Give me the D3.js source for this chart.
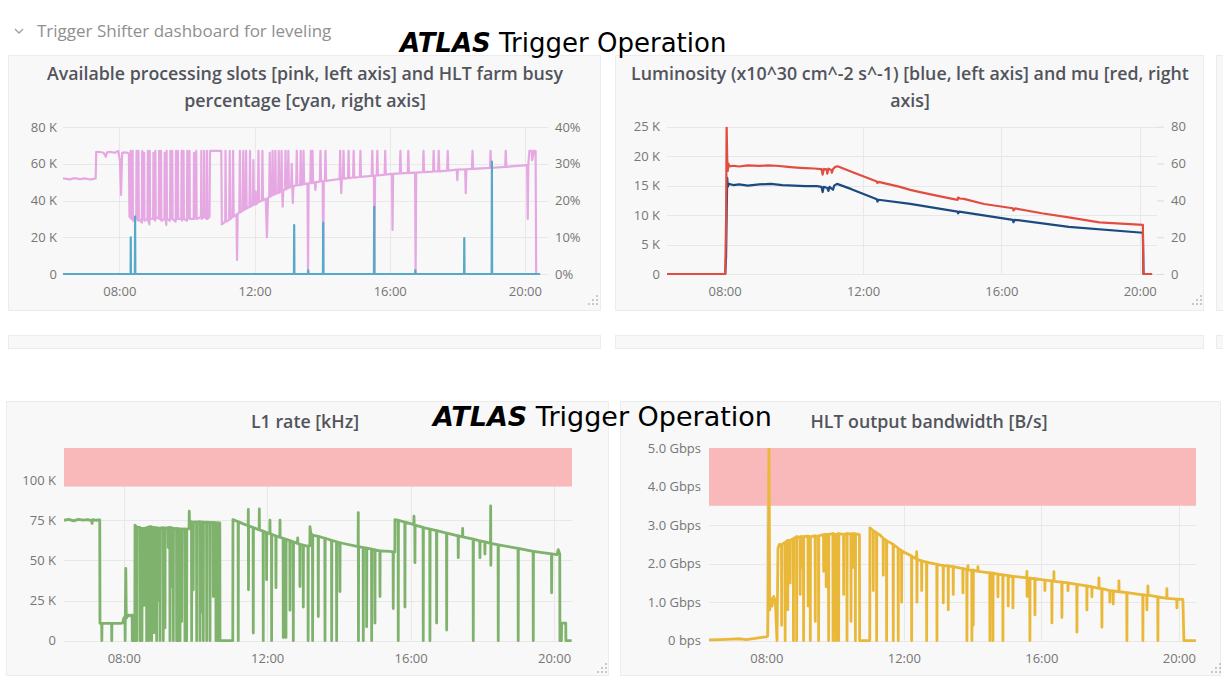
<!DOCTYPE html>
<html>
<head>
<meta charset="utf-8">
<script src="https://cdn.jsdelivr.net/npm/d3@7"></script>
<style>
  body { margin: 0; background: #fff; }
  svg { display: block; font-family: "Open Sans", sans-serif; }
</style>
</head>
<body>
<svg id="chart" width="1223" height="691"></svg>
<script>
// Grafana shifter dashboard, four panels.
// Times are minutes after midnight, values in panel units.

// --- Data ---
const hourTicksEvery = 4;

// available processing slots [K], left axis
const slotsData = [
  [380,52],[392,51.5],[400,52.2],[410,51.6],[420,52],[428,51.4],[438,52],[439,66.5],[446,66.4],[452,66],
  [456,63.8],[458,66.2],[464,66.5],[472,66],[478,67],[481,62],[483,43],[485,66],[490,66.2],[494,66],[497,65.5],
  [498,31],[499,31],[500,67],[501,30],[503,31],[503.6,67],[504.2,29],[510,32],[510.6,67],[511.2,30],[513.4,29],
  [514,67],[514.6,30],[520,28],[520.6,67],[521.2,31],[523.4,30],[524,66],[524.6,29],[530,30],[530.6,67],
  [531.2,29],[533.4,27],[534,67],[534.6,30],[540,30],[540.6,66],[541.2,31],[543.4,29],[544,67],[544.6,30],
  [550,31],[550.6,67],[551.2,30],[553.4,30],[554,67],[554.6,29],[560,30],[560.6,66],[561.2,31],[563.4,26.7],
  [564,67],[564.6,30],[570,29],[570.6,67],[571.2,30],[573.4,31],[574,67],[574.6,30],[580,28.5],[580.6,67],
  [581.2,31],[583.4,30],[584,67],[584.6,30],[590,30],[590.6,67],[591.2,29],[593.4,31],[594,67],[594.6,30],
  [600,29],[600.6,67],[601.2,30],[604,31],[604.6,67],[605.2,30],[612,30],[612.6,66],[613.2,30],[616,31],
  [616.6,67],[617.2,30],[625,31],[625.6,67],[626.2,30],[630,31],[630.6,67],[631.2,31],[635,30],[635.6,67],
  [636.2,30],[640,31],[641,67],
  [655,67],[661,67],[662,27],[668,28.5],[668.5,67],[669.5,28.5],[675,29.5],[676,67],[677,29.8],
  [681,31],[682,67],[683,31.2],[688,32.4],[689,7.6],[690,32.6],[693,33.5],[694,67],[695,33.6],[699,34.5],
  [700,67],[701,34.7],[704,35.5],[705,67],[706,35.6],[711,36.6],[712,67],[713,36.7],[717,37.5],[718,62],
  [719,37.6],[721,38],[722,45],[723,38],[726,39],[727,67],[728,39.1],[733,40],[734,67],[735,40.1],[740,41],
  [742,20],[744,41.5],[746,42],[747,66],[748,42.1],[751,42.8],[752,67],[753,42.9],[756,43.5],[757,67],[758,43.6],
  [762,44.2],[763,67],[764,44.3],[767,45],[768,67],[769,45.2],[770,36.6],[771,45.6],[774,46],[775,67],[776,46.1],
  [779,46.8],[780,67],[781,46.9],[785,47.4],[786,60],[787,47.5],[788,38.6],[789,47.8],[794,48.2],[795,67],
  [796,48.3],[801,48.4],[802,67],[803,48.5],[806,48.8],[807,67],[808,48.9],[814,49.3],[815,0.5],[816,49.3],
  [819,49.4],[820,67],[821,49.5],[822,49.6],[823,67],[824,49.7],[827,49.9],[828,45.7],[829,50],[836,50.3],
  [837,67],[838,50.4],[841,50.5],[842,0.5],[843,50.5],[845,50.7],[846,67],[847,50.7],[871,51.7],[872,67],
  [873,51.7],[874,44],[875,51.8],[877,51.9],[878,67],[879,51.9],[886,52.2],[887,67],[888,52.2],[895,52.5],
  [896,67],[897,52.5],[907,52.8],[908,67],[909,52.9],[928,53.4],[929,67],[930,53.4],[932,53.5],[933,0.5],
  [934,53.5],[937,53.6],[938,67],[939,53.6],[951,54.1],[952,67],[953,54.1],[964,54.5],[965,24],[966,54.5],
  [978,54.8],[979,67],[980,54.8],[992,55],[993,67],[994,55],[1005,55.2],[1006,0.5],[1007,55.2],[1019,55.4],
  [1020,67],[1021,55.4],[1037,55.7],[1038,67],[1039,55.8],[1046,55.9],[1047,67],[1048,55.9],[1062,56.3],
  [1063,67],[1064,56.3],[1079,56.8],[1080,51],[1081,56.8],[1094,57],[1095,44],[1096,57],[1106,57.2],[1107,67],
  [1108,57.2],[1138,57.8],[1139,67],[1140,57.8],[1165,58.3],[1166,67],[1167,58.3],[1204,59.3],[1205,30],
  [1206,59.4],[1208,67],[1212,67],[1213,62],[1216,67],[1219,67],[1220,0],[1222,0]
];

// HLT farm busy [%], right axis
const busyData = [
  [380,0],[500,0],[500.3,10],[500.6,0],[507.6,0],[508,15.6],[508.4,0],[790,0],[790.4,13.3],[790.8,0],
  [815,0],[815.4,1],[815.8,0],[841.5,0],[841.9,13.9],[842.3,0],[932,0],[932.4,18.3],[932.8,0],
  [1005,0],[1005.4,1],[1005.8,0],[1092,0],[1092.4,9.8],[1092.8,0],[1141,0],[1141.4,30.6],[1141.8,0],[1227,0]
];

// luminosity [K x10^30], left axis
const lumiData = [
  [380,0],[481,0],[482.5,3],[483.5,10.4],[484.5,16.3],[485.5,14.8],[487,15.3],[495,15.1],[505,15.2],[520,15],
  [540,15.2],[560,15.3],[580,15.1],[600,15],[620,14.9],[640,14.9],[648,14.8],[650,13.9],[652,14.8],[658,14.6],
  [660,14.1],[662,14.8],[668,14.3],[670,15],[675,15.3],[700,14.4],[744,12.7],[745,12.3],[747,12.6],[802,11.9],
  [884,10.6],[885,10.3],[887,10.6],[980,9.2],[981,8.8],[983,9.2],[1077,8.0],[1205.5,7.0],[1206.5,0],[1221.5,0]
];

// pile-up mu, right axis
const muData = [
  [380,0],[481,0],[482.5,30],[483.5,79.5],[484.5,62],[485.5,56],[486.5,60],[488,58.5],[495,58.8],[505,58.4],
  [520,59],[540,58.7],[555,59],[570,58.8],[590,58.2],[605,57.8],[620,57.5],[635,57.3],[648,57],[650,54],
  [652,57],[657,56.8],[658,54.5],[660,57.2],[665,56.5],[666,55],[668,57],[672,58.2],[676,58.5],[700,55.5],
  [744,50.2],[745,49.4],[747,50],[784,47.3],[802,45.7],[819,44.5],[854,42.2],[884,40.3],[885,41.5],[888,41],
  [895,40.8],[930,38],[980,35.7],[981,34.5],[984,35.6],[1030,33],[1077,30.8],[1130,28],[1205.5,26.7],
  [1206.5,0],[1221.5,0]
];

// L1 rate [K]
const l1Data = [
  [380,75],[388,75.5],[396,74.6],[404,75.6],[412,75.1],[420,75.4],[426,74.8],[427,73],[428,75.4],[434,75],
  [439.8,75.2],[440.2,10.8],[443,10.8],[443.3,0],[443.6,10.8],[459.6,10.8],[459.9,0],[460.2,10.8],[472,10.8],
  [478,11],[480,14],[482,15],[482.3,0],[482.6,15],[483.4,45],[484.2,14],[488,16],[492,15.5],[494,16],[494.3,0],
  [498.5,0],[498.8,72],[501.3,71],[501.6,0],[501.9,70.5],[506.8,70.5],[507.1,0],[507.4,70],[510.2,70],
  [510.5,0],[510.8,70],[513.5,69.8],[513.8,22],[514.1,70],[518,70.2],[518.3,0],[518.6,70.5],[521.7,70.8],
  [522,0],[522.3,70.8],[526.4,71],[526.7,0],[527,70.6],[530.3,70.4],[530.6,5],[530.9,70.5],[534.7,70.3],
  [535,0],[535.3,70.2],[537.7,70.1],[538,25],[538.3,70.1],[540.3,70],[540.6,0],[540.9,70.1],[545.8,70.4],
  [546.1,0],[546.4,70.3],[548.7,70.2],[549,8],[549.3,70],[554.2,70.4],[554.5,58],[554.8,70.4],[557,70.6],
  [557.3,0],[557.6,70.5],[559.9,70.3],[560.2,33.7],[560.5,70.2],[562.6,70],[562.9,0],[563.2,70],[568.2,69.8],
  [568.5,0],[568.8,69.9],[571.2,69.7],[571.5,0],[571.8,69.7],[573.8,69.6],[574.1,0],[574.4,69.7],[576.6,69.6],
  [576.9,12],[577.2,69.5],[582.1,69.6],[582.4,0],[582.7,69.5],[584.9,69.4],[585.2,0],[585.5,69.5],[589.2,69.6],
  [589.6,80.6],[590,74],[593.3,74.2],[593.6,0],[593.9,74],[596,73.9],[596.3,31.7],[596.6,73.8],[601.7,74],
  [602,0],[602.3,73.9],[607.2,74.1],[607.5,0],[607.8,74],[610.2,73.9],[610.5,18],[610.8,73.9],[612.8,73.8],
  [613.1,0],[613.4,73.9],[618.5,73.7],[618.8,0],[619.1,73.8],[624,73.6],[624.3,0],[624.6,73.7],[629.5,73.5],
  [629.8,27.5],[630.1,73.6],[634,73.5],[634.3,0],[634.6,73.4],[637.9,73.5],[638.2,0],[638.5,73.4],[640.7,73.4],
  [641,0],[662.4,0],[662.7,75.4],[671.3,74.1],[671.6,0],[671.9,74.1],[679,72.9],[688.1,71.6],[688.4,81.7],
  [688.7,31.7],[689,71.6],[696.4,70.4],[696.7,4.8],[697,70.4],[706.5,69],[706.8,82],[707.1,69],[713.1,68.2],
  [713.4,0],[713.7,68.2],[718.7,67.3],[719,38],[719.3,67.3],[724.3,66.6],[724.6,75],[724.9,66.6],[727.1,66.3],
  [727.4,0],[727.7,66.3],[734.4,65.2],[734.7,33],[735,65.2],[741.1,64.4],[741.4,75],[741.7,64.4],[746.6,63.7],
  [746.9,2],[747.2,63.7],[751.1,63.2],[751.4,2],[751.7,63.2],[757.8,62.3],[758.1,19],[758.4,62.3],[763.4,61.5],
  [763.7,0],[764,61.5],[770.7,60.6],[771,64],[771.3,60.6],[774.5,60],[774.8,33.7],[775.1,60],[780.1,59.5],
  [780.4,21],[780.7,59.5],[788.2,58.8],[788.5,0],[788.8,59],[791.3,59],[791.6,71],[793,67],[794.9,66],
  [795.7,65.9],[796,0],[796.3,65.8],[805.2,65],[805.5,15],[805.8,65],[816.4,63.8],[816.7,0],[817,63.8],
  [827.6,62.5],[827.9,0],[828.2,62.5],[835.9,61.6],[836.2,0],[836.5,61.6],[841.4,61],[841.7,30.6],[842,61],
  [872.1,58.6],[872.4,79.8],[872.7,0],[873,58.6],[880.5,58],[880.8,0],[881.1,58],[886.1,57.7],[886.4,8.7],
  [886.7,57.7],[894.5,57],[894.8,0],[895.1,57],[900,56.6],[900.3,11],[900.6,56.6],[908.4,56],[908.7,27.5],
  [909,56],[925,55.6],[930.6,55.3],[930.9,20],[931.2,55.3],[933.5,55.2],[933.8,75.4],[939,75],[939.3,0],
  [939.6,75],[950.2,73.8],[950.5,21],[950.8,73.8],[965.3,72.3],[965.6,77.5],[966,72.2],[966.9,72.1],
  [967.2,48.6],[967.5,72],[980.8,70.6],[981.1,0],[981.4,70.5],[992,69.5],[992.3,0],[992.6,69.5],[1003.2,68.6],
  [1003.5,11],[1003.8,68.6],[1020,67],[1020.3,6.6],[1020.6,67],[1039.4,65.3],[1039.7,51.7],[1040,65.3],
  [1046.7,64.7],[1047,70],[1047.3,64.7],[1064.5,63.2],[1064.8,0],[1065.1,63.2],[1075.7,62.2],[1076,51.7],
  [1076.3,62.2],[1084,61.5],[1084.3,54],[1084.6,61.5],[1093.6,60.6],[1093.9,84],[1094.2,47],[1094.5,60.6],
  [1106.3,59.7],[1106.6,0],[1106.9,59.7],[1139.7,57.5],[1140,0],[1140.3,57.5],[1164.9,55.6],[1165.2,0],
  [1165.5,55.6],[1195.6,54],[1195.9,29.8],[1196.2,54],[1204.8,53.6],[1207,56.7],[1209.5,54],[1209.8,0],
  [1212.3,0],[1212.6,11],[1219.5,11],[1219.8,0],[1229.4,0]
];

// HLT output bandwidth [Gbps]
const hltData = [
  [380,0.02],[400,0.03],[420,0.04],[434,0.05],[445,0.03],[455,0.05],[469,0.08],[479,0.1],[482.5,0.12],[483,0.8],
  [484.7,5.3],[486,0.8],[488,1.1],[490,0.9],[493,1.15],[496,1.0],[497,0.6],[498.7,0],[500.4,2.4],[503,2.5],
  [505,2.45],[506.5,2.5],[506.8,0.4],[507.1,2.5],[512.6,2.55],[512.9,0],[513.2,2.55],[517.2,2.6],[517.5,0.8],
  [517.8,2.6],[521.3,2.6],[521.6,1.5],[521.9,2.6],[527.1,2.65],[527.4,0],[527.7,2.65],[532.7,2.7],[533,0],
  [533.3,2.7],[538.9,2.68],[539.2,1.2],[539.5,2.7],[541.7,2.7],[542,1.9],[542.3,2.7],[544.8,2.7],[545.1,0],
  [545.4,2.7],[552.7,2.71],[553,0.9],[553.3,2.71],[556.5,2.7],[556.8,0],[557.1,2.7],[565.2,2.72],[565.5,0.5],
  [565.8,2.72],[571,2.7],[571.3,0],[571.6,2.72],[579.8,2.75],[580.1,1.8],[580.4,2.75],[584.2,2.76],[584.5,1.4],
  [584.8,2.76],[588.5,2.76],[588.8,0],[589.1,2.76],[596.2,2.78],[596.5,0],[596.8,2.78],[601.2,2.75],[601.5,0],
  [601.8,2.75],[606,2.78],[606.3,0],[606.6,2.78],[614.8,2.76],[615.1,1.2],[615.4,2.76],[620.6,2.78],[620.9,0],
  [621.2,2.78],[627.6,2.77],[627.9,0.5],[628.2,2.77],[631.2,2.78],[631.5,1.9],[631.8,2.78],[635.2,2.78],
  [635.5,0],[635.8,2.77],[642.6,2.75],[642.9,0],[660.6,0],[660.9,2.93],[666.4,2.86],
  [666.7,1.3],[667,2.85],[672.3,2.8],[672.6,0],[672.9,2.79],[678,2.75],[683.9,2.66],[684.2,1.7],[684.5,2.65],
  [689.7,2.6],[690,0],[690.3,2.59],[701.3,2.5],[701.6,0],[701.9,2.49],[710,2.4],[710.3,0],[710.6,2.39],
  [715.9,2.34],[716.2,1.0],[716.5,2.33],[731,2.22],[733.4,2.2],[733.7,0],[734,2.19],[742.1,2.12],[742.4,2.31],
  [742.7,2.11],[743,1.0],[743.3,2.11],[751,2.07],[751.2,1.3],[751.5,2.07],[759.6,2.04],[759.9,0],[760.2,2.04],
  [765.6,2.02],[777.6,1.98],[777.9,0],[778.2,1.98],[788.6,1.95],[788.9,0.98],[789.2,1.95],[797.3,1.94],
  [797.6,0.8],[797.9,1.94],[806,1.92],[806.3,1.2],[806.6,1.92],[822.9,1.87],[823.2,1.24],[823.5,1.87],
  [829.9,1.85],[830.2,0],[830.5,1.85],[831.7,1.84],[832,1.95],[832.3,1.84],[838.6,1.83],[838.9,0],[839.2,1.83],
  [840.9,1.83],[841.2,0.4],[841.5,1.83],[849.1,1.8],[849.4,1.92],[849.7,1.8],[870,1.76],[870.3,0],[870.6,1.76],
  [875.3,1.75],[875.6,0],[875.9,1.75],[884,1.73],[884.3,1.14],[884.6,1.73],[892.7,1.71],[893,0],[893.3,1.71],
  [902,1.69],[902.3,0.9],[902.6,1.69],[910.2,1.67],[910.5,0.85],[910.8,1.67],[934.6,1.63],[934.9,1.8],
  [935.2,1.15],[935.5,1.62],[939.8,1.62],[940.1,0],[940.4,1.62],[948.6,1.61],[948.9,0.67],[949.2,1.61],
  [966,1.57],[966.3,1.3],[966.6,1.57],[978.2,1.55],[978.5,0.46],[978.8,1.55],[981.7,1.55],[982,1.79],
  [982.3,1.54],[995.7,1.52],[996,0.6],[996.3,1.52],[1006.2,1.5],[1006.5,1.3],[1006.8,1.5],[1021.9,1.46],
  [1022.2,0.22],[1022.5,1.46],[1039.3,1.42],[1039.6,0.8],[1039.9,1.42],[1048,1.4],[1048.3,1.14],[1048.6,1.4],
  [1060.3,1.36],[1060.6,1.63],[1060.9,1.36],[1065.5,1.35],[1065.8,0.35],[1066.1,1.35],[1079.4,1.3],[1079.7,1.0],
  [1080,1.3],[1085.2,1.29],[1085.5,0.95],[1085.8,1.29],[1095.2,1.27],[1095.5,1.55],[1095.8,1.27],[1109.1,1.25],
  [1109.4,0],[1109.7,1.25],[1137,1.19],[1137.3,0],[1137.6,1.19],[1144,1.18],[1144.3,0.8],[1144.6,1.18],
  [1145.8,1.18],[1146.1,1.42],[1146.4,1.18],[1163.2,1.14],[1163.5,0],[1163.8,1.14],[1178.9,1.1],[1179.2,1.35],
  [1179.5,1.1],[1196.4,1.08],[1196.7,0.85],[1197,1.08],[1207.1,1.07],[1208.9,0],[1229.8,0]
];

// axis ticks and thresholds
const slotsTicks = [0, 20, 40, 60, 80];
const busyTicks = [0, 10, 20, 30, 40];
const lumiTicks = [0, 5, 10, 15, 20, 25];
const muTicks = [0, 20, 40, 60, 80];
const l1Ticks = [0, 25, 50, 75, 100];
const hltTicks = [0, 1, 2, 3, 4, 5];
const l1Threshold = 96;   // K, red band up to top
const hltThreshold = 3.5; // Gbps

// --- Setup ---
const svg = d3.select("#chart");
const day = new Date(2018, 4, 14).getTime();
const toDate = m => new Date(day + m * 60000);
const gridColor = "#e8e8e8";
const labelColor = "#767676";
const kFmt = d => d === 0 ? "0" : d + " K";

// panel backgrounds (the two cut-off rows included)
const boxes = [
  [8, 55, 592, 255], [615, 55, 588, 255], [1216, 55, 20, 255],
  [8, 335, 592, 13], [615, 335, 588, 13], [1216, 335, 20, 13],
  [6, 401, 602, 274], [620, 401, 600, 274]
];
svg.selectAll(".box").data(boxes).join("rect")
  .attr("class", "box")
  .attr("x", d => d[0] + 0.5).attr("y", d => d[1] + 0.5)
  .attr("width", d => d[2]).attr("height", d => d[3])
  .attr("fill", "#f8f8f8").attr("stroke", "#ececec");

// dashboard row header
svg.append("path").attr("d", "M15,29 L19,33 L23,29")
  .attr("fill", "none").attr("stroke", "#a0a0a0").attr("stroke-width", 1.4);
svg.append("text").attr("x", 37).attr("y", 37)
  .attr("font-size", 17).attr("fill", "#8f8f8f")
  .text("Trigger Shifter dashboard for leveling");

// --- Panels ---
function drawPanel(p) {
  const g = svg.append("g");
  const x = d3.scaleTime().domain([toDate(p.t0), toDate(p.t1)]).range([p.left, p.right]);
  const y = d3.scaleLinear().domain(p.yDomain).range([p.bottom, p.top]);
  const y2 = p.y2Domain ? d3.scaleLinear().domain(p.y2Domain).range([p.bottom, p.top]) : null;

  // title
  p.title.forEach((line, i) => {
    g.append("text").attr("x", p.titleX).attr("y", p.titleY + i * 27)
      .attr("text-anchor", "middle").attr("font-size", 17.8).attr("font-weight", 600)
      .attr("fill", "#52545c").text(line);
  });

  // grid
  g.append("g").selectAll("line").data(p.yTicks).join("line")
    .attr("x1", p.left).attr("x2", p.gridRight)
    .attr("y1", d => Math.round(y(d)) + 0.5).attr("y2", d => Math.round(y(d)) + 0.5)
    .attr("stroke", gridColor);
  g.append("g").selectAll("line").data(x.ticks(d3.timeHour.every(hourTicksEvery))).join("line")
    .attr("x1", d => Math.round(x(d)) + 0.5).attr("x2", d => Math.round(x(d)) + 0.5)
    .attr("y1", p.top).attr("y2", p.bottom)
    .attr("stroke", gridColor);

  // threshold band
  if (p.threshold !== undefined) {
    g.append("rect")
      .attr("x", p.left).attr("width", p.right - p.left)
      .attr("y", p.top).attr("height", y(p.threshold) - p.top)
      .attr("fill", "#f9b9ba");
  }

  // axes
  const fontAttrs = sel => sel.attr("font-family", "Open Sans").attr("font-size", 13)
    .call(a => a.select(".domain").remove())
    .call(a => a.selectAll("text").attr("fill", labelColor));

  g.append("g").attr("transform", `translate(0,${p.bottom})`)
    .call(d3.axisBottom(x).ticks(d3.timeHour.every(hourTicksEvery))
      .tickFormat(d3.timeFormat("%H:%M")).tickSize(0).tickPadding(13))
    .call(fontAttrs);
  g.append("g").attr("transform", `translate(${p.left},0)`)
    .call(d3.axisLeft(y).tickValues(p.yTicks).tickFormat(p.yFormat).tickSize(0).tickPadding(p.padLeft))
    .call(fontAttrs);
  if (y2) {
    g.append("g").attr("transform", `translate(${p.right2},0)`)
      .call(d3.axisRight(y2).tickValues(p.y2Ticks).tickFormat(p.y2Format)
        .tickSize(p.y2TickSize).tickPadding(p.padRight))
      .call(fontAttrs)
      .call(a => a.selectAll("line").attr("stroke", "#dcdcdc"));
  }

  // series
  const clipId = "clip-" + p.id;
  g.append("clipPath").attr("id", clipId).append("rect")
    .attr("x", p.left).attr("y", p.top)
    .attr("width", p.right - p.left).attr("height", p.bottom - p.top + 2);

  const plot = g.append("g").attr("clip-path", `url(#${clipId})`);
  p.series.forEach(s => {
    const scale = s.axis === 2 ? y2 : y;
    const line = d3.line().x(d => x(toDate(d[0]))).y(d => scale(d[1]));
    plot.append("path").datum(s.data)
      .attr("d", line)
      .attr("fill", "none")
      .attr("stroke", s.color)
      .attr("stroke-width", s.width)
      .attr("stroke-linejoin", "round");
  });

  // resize handle
  const dots = [[0, -8], [-4, -4], [0, -4], [-8, 0], [-4, 0], [0, 0]];
  g.append("g").selectAll("rect").data(dots).join("rect")
    .attr("x", d => p.handle[0] + d[0]).attr("y", d => p.handle[1] + d[1])
    .attr("width", 2).attr("height", 2).attr("fill", "#c8c8c8");
}

drawPanel({
  id: "slots", t0: 380, t1: 1241, left: 63, right: 548, gridRight: 548, top: 127, bottom: 274,
  titleX: 305, titleY: 80,
  title: ["Available processing slots [pink, left axis] and HLT farm busy", "percentage [cyan, right axis]"],
  yDomain: [0, 80], yTicks: slotsTicks, yFormat: kFmt, padLeft: 6,
  y2Domain: [0, 40], y2Ticks: busyTicks, y2Format: d => d + "%", y2TickSize: 0, right2: 548, padRight: 7,
  series: [
    { data: slotsData, color: "#e5a8e2", width: 2.2 },
    { data: busyData, color: "#58a9c7", width: 2.2, axis: 2 }
  ],
  handle: [596, 303]
});

drawPanel({
  id: "lumi", t0: 380, t1: 1230, left: 667, right: 1157, gridRight: 1157, top: 126.7, bottom: 274,
  titleX: 910, titleY: 80,
  title: ["Luminosity (x10^30 cm^-2 s^-1) [blue, left axis] and mu [red, right", "axis]"],
  yDomain: [0, 25], yTicks: lumiTicks, yFormat: kFmt, padLeft: 7,
  y2Domain: [0, 80], y2Ticks: muTicks, y2Format: d => d, y2TickSize: 7, right2: 1157, padRight: 7,
  series: [
    { data: lumiData, color: "#1b4a80", width: 2.2 },
    { data: muData, color: "#e24d42", width: 2.2, axis: 2 }
  ],
  handle: [1200, 303]
});

drawPanel({
  id: "l1", t0: 380, t1: 1230, left: 64, right: 572, gridRight: 572, top: 448, bottom: 640.7,
  titleX: 305, titleY: 428, title: ["L1 rate [kHz]"],
  yDomain: [0, 120], yTicks: l1Ticks, yFormat: kFmt, padLeft: 8,
  threshold: l1Threshold,
  series: [{ data: l1Data, color: "#7eb26d", width: 2.8 }],
  handle: [605, 671]
});

drawPanel({
  id: "hlt", t0: 380, t1: 1230, left: 709, right: 1196, gridRight: 1196, top: 448, bottom: 640.7,
  titleX: 929, titleY: 428, title: ["HLT output bandwidth [B/s]"],
  yDomain: [0, 5], yTicks: hltTicks, yFormat: d => d === 0 ? "0 bps" : d.toFixed(1) + " Gbps", padLeft: 8,
  threshold: hltThreshold,
  series: [{ data: hltData, color: "#eab839", width: 2.8 }],
  handle: [1219, 671]
});

// --- ATLAS labels on top ---
function atlasLabel(xPos, yPos, size) {
  const t = svg.append("text").attr("x", xPos).attr("y", yPos)
    .attr("font-family", "DejaVu Sans").attr("font-size", size).attr("fill", "#000");
  t.append("tspan").attr("font-weight", "bold").attr("font-style", "italic").text("ATLAS");
  t.append("tspan").text(" Trigger Operation");
}
atlasLabel(400, 52, 26);
atlasLabel(433, 426, 27);
</script>
</body>
</html>
